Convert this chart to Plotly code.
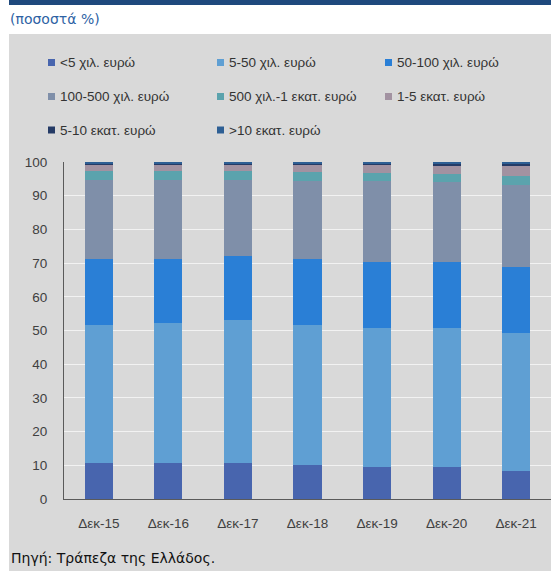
import plotly.graph_objects as go

# Share of deposits by deposit size bracket (%), end of December each year
categories = ["Δεκ-15", "Δεκ-16", "Δεκ-17", "Δεκ-18", "Δεκ-19", "Δεκ-20", "Δεκ-21"]

lt5k = [10.7, 10.7, 10.7, 10.1, 9.4, 9.4, 8.2]
k5_50 = [40.8, 41.5, 42.5, 41.6, 41.4, 41.4, 41.1]
k50_100 = [19.8, 18.9, 18.8, 19.4, 19.6, 19.5, 19.6]
k100_500 = [23.4, 23.6, 22.8, 23.4, 24.0, 23.7, 24.2]
k500_1m = [2.5, 2.5, 2.4, 2.5, 2.4, 2.5, 2.8]
m1_5 = [2.1, 2.2, 2.2, 2.4, 2.5, 2.4, 3.0]
m5_10 = [0.4, 0.3, 0.3, 0.3, 0.3, 0.4, 0.5]
gt10m = [0.3, 0.3, 0.3, 0.3, 0.4, 0.7, 0.6]

series_names = [
    "<5 χιλ. ευρώ", "5-50 χιλ. ευρώ", "50-100 χιλ. ευρώ",
    "100-500 χιλ. ευρώ", "500 χιλ.-1 εκατ. ευρώ", "1-5 εκατ. ευρώ",
    "5-10 εκατ. ευρώ", ">10 εκατ. ευρώ",
]
series_values = [lt5k, k5_50, k50_100, k100_500, k500_1m, m1_5, m5_10, gt10m]
series_colors = ["#4865ae", "#5f9fd3", "#2a7fd6", "#7f8fa9",
                 "#5ba3ad", "#a292a1", "#253b66", "#2e5f94"]

y_ticks = [0, 10, 20, 30, 40, 50, 60, 70, 80, 90, 100]

W, H = 551, 571
ML, MR, MT, MB = 64, 0, 162, 72
PW, PH = W - ML - MR, H - MT - MB

def px_x(px):
    return (px - ML) / PW

def px_y(py):
    return 1 - (py - MT) / PH

BODY = "Liberation Sans, Arial, sans-serif"
HEAD = "DejaVu Sans, Verdana, sans-serif"

fig = go.Figure()
for name, vals, color in zip(series_names, series_values, series_colors):
    fig.add_bar(
        x=categories, y=vals, name=name, showlegend=False,
        marker=dict(color=color, line=dict(width=0)),
    )

shapes = [
    # white strips framing the grey panel
    dict(type="rect", xref="paper", yref="paper", x0=px_x(0), x1=px_x(W),
         y0=px_y(0), y1=px_y(34), fillcolor="white", line_width=0, layer="below"),
    dict(type="rect", xref="paper", yref="paper", x0=px_x(0), x1=px_x(9),
         y0=px_y(0), y1=px_y(H), fillcolor="white", line_width=0, layer="below"),
    # header band
    dict(type="rect", xref="paper", yref="paper", x0=px_x(9), x1=px_x(W),
         y0=px_y(0), y1=px_y(5), fillcolor="#1f497d", line_width=0, layer="below"),
]

annotations = [
    dict(text="(ποσοστά %)", xref="paper", yref="paper", x=px_x(8), y=px_y(19),
         xanchor="left", yanchor="middle", showarrow=False,
         font=dict(family=HEAD, size=14, color="#2e62a4")),
    dict(text="Πηγή: Τράπεζα της Ελλάδος.", xref="paper", yref="paper",
         x=px_x(9), y=px_y(558), xanchor="left", yanchor="middle", showarrow=False,
         font=dict(family=HEAD, size=14, color="#111111")),
]

# legend laid out in three columns
col_x = [48, 217, 385]
row_y = [62.5, 96.5, 130]
for i, (name, color) in enumerate(zip(series_names, series_colors)):
    cx, cy = col_x[i % 3], row_y[i // 3]
    shapes.append(dict(type="rect", xref="paper", yref="paper",
                       x0=px_x(cx), x1=px_x(cx + 7), y0=px_y(cy - 3.5), y1=px_y(cy + 3.5),
                       fillcolor=color, line_width=0))
    annotations.append(dict(text=name, xref="paper", yref="paper",
                            x=px_x(cx + 10), y=px_y(cy), xanchor="left", yanchor="middle",
                            showarrow=False,
                            font=dict(family=BODY, size=13.5, color="#333333")))

fig.update_layout(
    width=W, height=H,
    margin=dict(l=ML, r=MR, t=MT, b=MB, pad=0),
    barmode="stack", bargap=0.594,
    paper_bgcolor="#d9d9d9", plot_bgcolor="#d9d9d9",
    showlegend=False,
    shapes=shapes, annotations=annotations,
    font=dict(family=BODY, size=13.5, color="#404040"),
    xaxis=dict(showline=True, linecolor="#5a5a5a", linewidth=1, ticks="",
               showgrid=False, ticklabelstandoff=12,
               tickfont=dict(family=BODY, size=13.5, color="#404040")),
    yaxis=dict(range=[0, 100], tickvals=y_ticks, showline=True, linecolor="#5a5a5a",
               linewidth=1, ticks="", gridcolor="#f2f2f2", gridwidth=1,
               zeroline=False, ticklabelstandoff=13,
               tickfont=dict(family=BODY, size=13.5, color="#404040")),
)

fig.write_html("out.html")
